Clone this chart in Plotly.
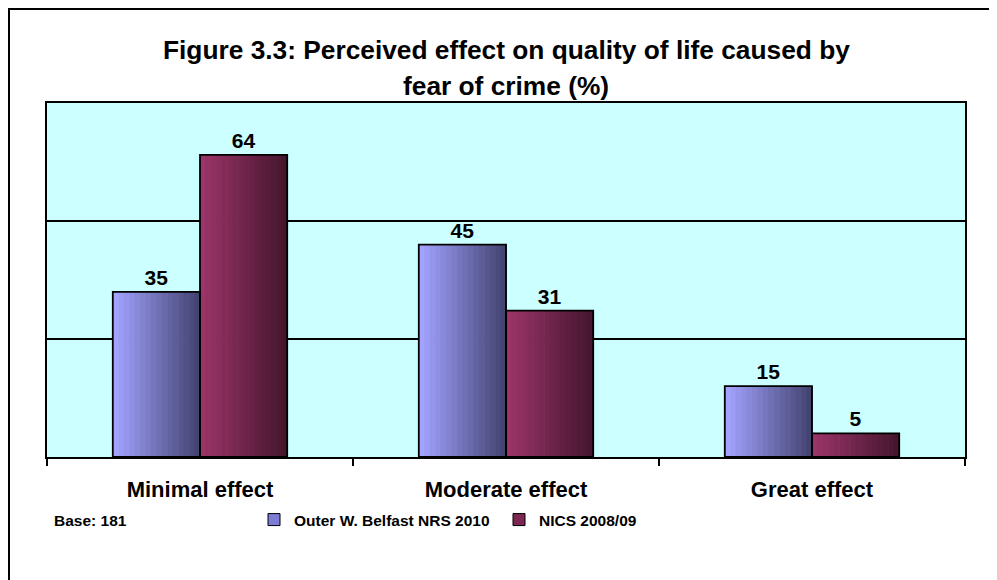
import plotly.graph_objects as go

categories = ["Minimal effect", "Moderate effect", "Great effect"]
series_names = ["Outer W. Belfast NRS 2010", "NICS 2008/09"]
outer_wb = [35, 45, 15]
nics = [64, 31, 5]
title_lines = ["Figure 3.3: Perceived effect on quality of life caused by", "fear of crime (%)"]
base_note = "Base: 181"

# page has an 8px body margin; work in screen pixels and convert
OFF = 8
W, H = 997 - OFF, 580 - OFF
PL, PR, PT, PB = 47, 965, 103, 457  # plot area in screen px
L, T = PL - OFF, PT - OFF
R, B = W - (PR - OFF), H - (PB - OFF)
pw = W - L - R
ph = H - T - B

def px_x(x):
    return (x - OFF - L) / pw

def px_y(y):
    return (H - B - (y - OFF)) / ph

def lerp(c1, c2, t):
    return "rgb(%d,%d,%d)" % tuple(round(a + (b - a) * t) for a, b in zip(c1, c2))

grad = {
    0: ((162, 162, 255), (68, 68, 115)),
    1: ((155, 52, 104), (70, 22, 46)),
}
mid = {0: "rgb(125,125,215)", 1: "rgb(125,40,82)"}

bw = 0.285
offsets = [-bw, 0.0]
N = 16
fig = go.Figure()
for s, vals in enumerate([outer_wb, nics]):
    c1, c2 = grad[s]
    for k in range(N):
        fig.add_trace(go.Bar(
            x=categories, y=vals, width=bw / N + 0.002, offset=offsets[s] + k * bw / N,
            marker=dict(color=lerp(c1, c2, k / (N - 1)), line=dict(width=0)),
            showlegend=False, hoverinfo="skip"))
for s, vals in enumerate([outer_wb, nics]):
    fig.add_trace(go.Bar(
        x=categories, y=vals, width=bw, offset=offsets[s],
        marker=dict(color="rgba(0,0,0,0)", line=dict(color="black", width=1.8)),
        text=vals, textposition="outside", cliponaxis=False,
        textfont=dict(family="Liberation Sans, Arial", size=21, color="black", weight="bold"),
        showlegend=False, name=series_names[s]))
for s in range(2):
    fig.add_trace(go.Bar(
        x=[categories[0]], y=[None], name=series_names[s],
        marker=dict(color=mid[s], line=dict(color="black", width=1))))

fig.update_layout(
    width=W, height=H, barmode="overlay",
    margin=dict(l=L, r=R, t=T, b=B),
    paper_bgcolor="white", plot_bgcolor="#CCFFFF",
    font=dict(family="Liberation Sans, Arial", color="black"),
    showlegend=True,
    legend=dict(orientation="h", x=px_x(254), y=px_y(520), xanchor="left", yanchor="middle",
                font=dict(size=15.5, weight="bold"), entrywidth=200, entrywidthmode="pixels",
                bgcolor="rgba(0,0,0,0)"),
    xaxis=dict(showline=True, linecolor="black", linewidth=2, mirror=True,
               ticks="outside", tickson="boundaries", ticklen=7, tickcolor="black", tickwidth=1.5,
               tickfont=dict(size=22, weight="bold"), ticklabelstandoff=12, showgrid=False),
    yaxis=dict(range=[0, 75], dtick=25, showgrid=True, gridcolor="black", gridwidth=1.5,
               showticklabels=False, showline=True, linecolor="black", linewidth=2, mirror=True,
               zeroline=False, fixedrange=True),
)
fig.add_annotation(text="<b>%s</b>" % title_lines[0], xref="paper", yref="paper",
                   x=0.5, y=px_y(50), showarrow=False, font=dict(size=26.3), yanchor="middle")
fig.add_annotation(text="<b>%s</b>" % title_lines[1], xref="paper", yref="paper",
                   x=0.5, y=px_y(86), showarrow=False, font=dict(size=26.3), yanchor="middle")
fig.add_annotation(text="<b>%s</b>" % base_note, xref="paper", yref="paper",
                   x=px_x(52), y=px_y(520), xanchor="left", yanchor="middle", showarrow=False,
                   font=dict(size=15.5))
fig.add_shape(type="rect", xref="paper", yref="paper", x0=px_x(9), x1=px_x(993),
              y0=px_y(640), y1=px_y(9), line=dict(color="black", width=2), layer="above")
fig.write_html("out.html")
